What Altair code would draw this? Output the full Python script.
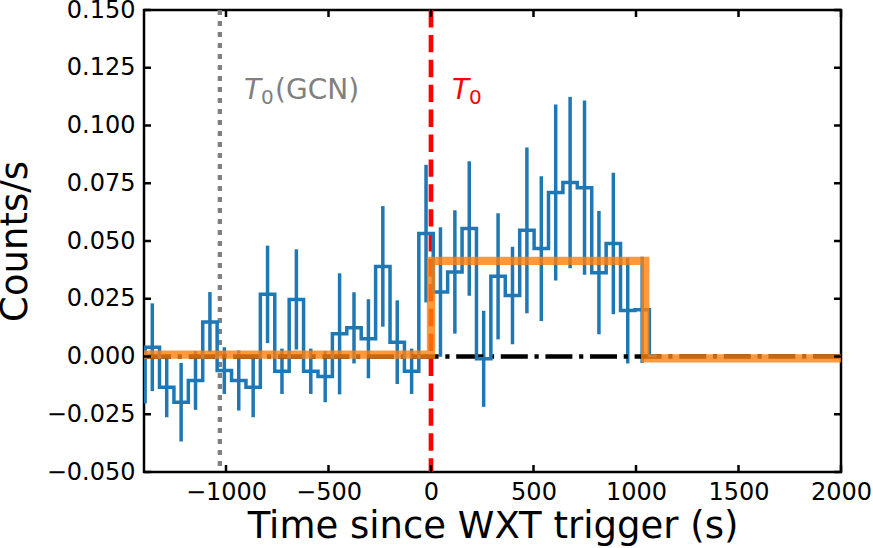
import altair as alt
import pandas as pd

# ---- WXT light curve: bin centres (s since trigger), net rate and 1-sigma error ----
time_s = [-1429.8, -1359.5, -1289.2, -1218.9, -1148.7, -1078.4, -1008.1, -937.8,
          -867.5, -797.3, -727.0, -656.7, -586.4, -516.1, -445.9, -375.6,
          -305.3, -235.0, -164.7, -94.5, -24.2, 46.1, 116.4, 186.7,
          256.9, 327.2, 397.5, 467.8, 538.1, 608.3, 678.6, 748.9,
          819.2, 889.5, 959.7, 1030.0, 1100.3]
rate = [-0.0196, 0.0040, -0.0133, -0.0198, -0.0104, 0.0149, -0.0061, -0.0104,
        -0.0133, 0.0269, -0.0064, 0.0247, -0.0064, -0.0087, 0.0098, 0.0124,
        0.0077, 0.0390, 0.0062, -0.0064, 0.0532, 0.0279, 0.0366, 0.0554,
        -0.0010, 0.0347, 0.0264, 0.0546, 0.0467, 0.0710, 0.0753, 0.0731,
        0.0363, 0.0489, 0.0199, 0.0202, 0.0003]
rate_err = [0.0, 0.0190, 0.0130, 0.0170, 0.0127, 0.0130, 0.0101, 0.0130,
            0.0130, 0.0211, 0.0098, 0.0217, 0.0098, 0.0111, 0.0262, 0.0154,
            0.0171, 0.0261, 0.0181, 0.0098, 0.0298, 0.0280, 0.0267, 0.0291,
            0.0208, 0.0273, 0.0211, 0.0359, 0.0313, 0.0381, 0.0371, 0.0377,
            0.0267, 0.0306, 0.0229, 0.0230, 0.0]

# ---- Bayesian blocks (left edges and block rates) ----
block_edges = [-1500, 0, 1045, 2100]
block_rate = [0.0008, 0.0414, -0.0008, -0.0008]

# ---- reference epochs ----
t0_gcn = -1030
t0 = 0

x_ticks = [-1000, -500, 0, 500, 1000, 1500, 2000]
y_ticks = [-0.05, -0.025, 0.0, 0.025, 0.05, 0.075, 0.1, 0.125, 0.15]

W, H = 697, 462
FONT = "DejaVu Sans"
BLUE = "#1f77b4"
ORANGE = "#ff7f0e"

lc = pd.DataFrame({"t": time_s, "rate": rate, "err": rate_err})
lc["lo"] = lc["rate"] - lc["err"]
lc["hi"] = lc["rate"] + lc["err"]
blocks = pd.DataFrame({"t": block_edges, "rate": block_rate})

xs = alt.Scale(domain=[-1400, 2000], nice=False, zero=False)
ys = alt.Scale(domain=[-0.05, 0.15], nice=False, zero=False)

x_axis = alt.Axis(values=x_ticks, format="d", title="Time since WXT trigger (s)",
                  labelFlush=False, labelOverlap=False, labelPadding=8,
                  titlePadding=4, ticks=False, tickSize=0, domain=False, grid=False)
y_axis = alt.Axis(values=y_ticks, format=".3f", title="Counts/s",
                  labelFlush=False, labelOverlap=False, labelPadding=9,
                  titlePadding=12, ticks=False, tickSize=0, domain=False, grid=False)


def X(field):
    return alt.X(field, scale=xs, axis=x_axis)


def Y(field):
    return alt.Y(field, scale=ys, axis=y_axis)


# vertical markers
gcn_line = alt.Chart(pd.DataFrame({"t": [t0_gcn]})).mark_rule(
    color="#808080", strokeWidth=4.3, strokeDash=[5, 6], clip=True
).encode(x=X("t:Q"), y=alt.value(0), y2=alt.value(H))

t0_line = alt.Chart(pd.DataFrame({"t": [t0]})).mark_rule(
    color="red", strokeWidth=4.7, strokeDash=[17.4, 7.5], clip=True
).encode(x=X("t:Q"), y=alt.value(0), y2=alt.value(H))

# zero level
zero_line = alt.Chart(pd.DataFrame({"r": [0.0]})).mark_rule(
    color="black", strokeWidth=4.3, strokeDash=[27, 6.7, 4.2, 6.7], clip=True
).encode(y=Y("r:Q"), x=alt.value(0), x2=alt.value(W))

# light curve
err_bars = alt.Chart(lc).mark_rule(color=BLUE, strokeWidth=3.5, clip=True).encode(
    x=X("t:Q"), y=Y("lo:Q"), y2="hi:Q",
)
steps = alt.Chart(lc).mark_line(
    color=BLUE, strokeWidth=3.5, interpolate="step", clip=True, strokeJoin="miter"
).encode(x=X("t:Q"), y=Y("rate:Q"))

# Bayesian blocks
bb = alt.Chart(blocks).mark_line(
    color=ORANGE, opacity=0.8, strokeWidth=8.3, interpolate="step-after",
    clip=True, strokeJoin="miter"
).encode(x=X("t:Q"), y=Y("rate:Q"))

# inward ticks on all four sides
xt = pd.DataFrame({"t": x_ticks})
yt = pd.DataFrame({"r": y_ticks})
tick_style = dict(color="black", strokeWidth=2.5)
ticks = [
    alt.Chart(xt).mark_rule(**tick_style).encode(
        x=X("t:Q"), y=alt.value(H), y2=alt.value(H - 7)),
    alt.Chart(xt).mark_rule(**tick_style).encode(
        x=X("t:Q"), y=alt.value(0), y2=alt.value(7)),
    alt.Chart(yt).mark_rule(**tick_style).encode(
        y=Y("r:Q"), x=alt.value(0), x2=alt.value(7)),
    alt.Chart(yt).mark_rule(**tick_style).encode(
        y=Y("r:Q"), x=alt.value(W), x2=alt.value(W - 7)),
]


# annotations: italic T with subscript 0
def label(x, y, color, rest):
    d = pd.DataFrame({"t": [x], "r": [y]})
    enc = dict(x=X("t:Q"), y=Y("r:Q"))
    parts = [
        alt.Chart(d).mark_text(text="T", font=FONT, fontSize=28, fontStyle="italic",
                               color=color, align="left", baseline="alphabetic").encode(**enc),
        alt.Chart(d).mark_text(text="0", font=FONT, fontSize=20, color=color,
                               align="left", baseline="alphabetic", dx=17, dy=5).encode(**enc),
    ]
    if rest:
        parts.append(alt.Chart(d).mark_text(text=rest, font=FONT, fontSize=28, color=color,
                                            align="left", baseline="alphabetic", dx=31).encode(**enc))
    return parts


texts = label(-912, 0.1113, "#808080", "(GCN)") + label(103, 0.1113, "red", "")

chart = alt.layer(
    err_bars, gcn_line, t0_line, zero_line, steps, bb, *ticks, *texts
).properties(
    width=W, height=H,
    padding={"left": 144, "top": 10, "right": 32, "bottom": 76},
    autosize=alt.AutoSizeParams(type="none"),
).configure_view(
    stroke="black", strokeWidth=2.5
).configure_axis(
    labelFont=FONT, titleFont=FONT, labelFontSize=24, titleFontSize=37,
    titleFontWeight="normal", labelColor="black", titleColor="black"
)

chart.save("out.html", embed_options={"renderer": "svg", "actions": False})
